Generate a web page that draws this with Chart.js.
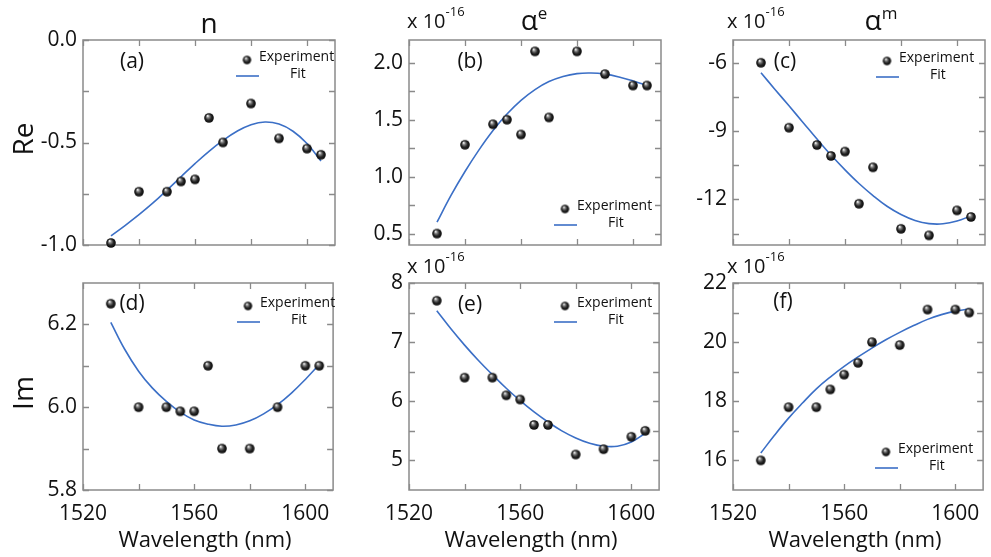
<!DOCTYPE html>
<html>
<head>
<meta charset="utf-8">
<script src="https://cdn.jsdelivr.net/npm/chart.js@4.4.0/dist/chart.umd.min.js"></script>
<style>
  body { margin: 0; background: #fff; }
  #fig { position: relative; width: 991px; height: 557px; overflow: hidden;
         font-family: "Open Sans", sans-serif; color: #111; }
  #fig canvas { position: absolute; }
  .txt { position: absolute; white-space: nowrap; line-height: 1; }
  .sup { position: relative; }
</style>
</head>
<body>
<div id="fig"></div>
<script>
// measured wavelengths (nm)
const wavelength = [1530, 1540, 1550, 1555, 1560, 1565, 1570, 1580, 1590, 1600, 1605];
// wavelengths where the fitted curves are sampled (nm)
const fitWavelength = [1530, 1535, 1540, 1545, 1550, 1555, 1560, 1565, 1570, 1575, 1580, 1585, 1590, 1595, 1600, 1605];

// refractive index n
const reN = [-0.99, -0.74, -0.74, -0.69, -0.68, -0.38, -0.50, -0.31, -0.48, -0.53, -0.56];
const reNFit = [-0.955, -0.905, -0.852, -0.795, -0.732, -0.667, -0.603, -0.543, -0.49, -0.445, -0.413, -0.40, -0.41, -0.445, -0.505, -0.59];
const imN = [6.25, 6.00, 6.00, 5.99, 5.99, 6.10, 5.90, 5.90, 6.00, 6.10, 6.10];
const imNFit = [6.205, 6.14, 6.087, 6.046, 6.014, 5.988, 5.969, 5.959, 5.954, 5.957, 5.967, 5.984, 6.006, 6.034, 6.067, 6.103];

// electric polarizability (x 1e-16)
const reAe = [0.50, 1.28, 1.46, 1.50, 1.37, 2.10, 1.52, 2.10, 1.90, 1.80, 1.80];
const reAeFit = [0.60, 0.835, 1.045, 1.235, 1.405, 1.55, 1.67, 1.765, 1.835, 1.88, 1.905, 1.91, 1.90, 1.875, 1.84, 1.80];
const imAe = [7.70, 6.40, 6.40, 6.10, 6.03, 5.60, 5.60, 5.10, 5.19, 5.40, 5.50];
const imAeFit = [7.53, 7.23, 6.95, 6.69, 6.45, 6.22, 6.01, 5.82, 5.65, 5.50, 5.38, 5.29, 5.24, 5.24, 5.31, 5.46];

// magnetic polarizability (x 1e-16)
const reAm = [-6.0, -8.85, -9.61, -10.09, -9.90, -12.19, -10.59, -13.29, -13.58, -12.48, -12.77];
const reAmFit = [-6.44, -7.17, -7.89, -8.62, -9.35, -10.05, -10.70, -11.30, -11.83, -12.30, -12.66, -12.92, -13.06, -13.07, -12.95, -12.72];
const imAm = [16.0, 17.8, 17.8, 18.4, 18.9, 19.3, 20.0, 19.9, 21.1, 21.1, 21.0];
const imAmFit = [16.25, 16.86, 17.43, 17.94, 18.42, 18.82, 19.18, 19.50, 19.80, 20.08, 20.33, 20.56, 20.77, 20.93, 21.05, 21.12];

// axis ticks and their labels ('' = unlabeled tick)
const xTicks = [1520, 1540, 1560, 1580, 1600];
const xTickLabels = ['1520', '', '1560', '', '1600'];
const reNTicks = [-1, -0.75, -0.5, -0.25, 0];
const reNTickLabels = ['-1.0', '', '-0.5', '', '0.0'];
const imNTicks = [5.8, 5.9, 6.0, 6.1, 6.2];
const imNTickLabels = ['5.8', '', '6.0', '', '6.2'];
const reAeTicks = [0.5, 0.75, 1.0, 1.25, 1.5, 1.75, 2.0];
const reAeTickLabels = ['0.5', '', '1.0', '', '1.5', '', '2.0'];
const imAeTicks = [5, 5.5, 6, 6.5, 7, 7.5, 8];
const imAeTickLabels = ['5', '', '6', '', '7', '', '8'];
const reAmTicks = [-13.5, -12, -10.5, -9, -7.5, -6];
const reAmTickLabels = ['', '-12', '', '-9', '', '-6'];
const imAmTicks = [16, 17, 18, 19, 20, 21, 22];
const imAmTickLabels = ['16', '', '18', '', '20', '', '22'];

const FONT = '"Open Sans", sans-serif';
const FIT_COLOR = '#3b6fc6';
const FRAME_COLOR = '#8a8a8a';
const colLeft = [83, 409, 733];
const rowTop = [40, 283];
const boxW = 254;
const boxH = [205, 207];

const panels = [
  { tag: '(a)', col: 0, row: 0, pts: reN, fit: reNFit, min: -1, max: 0, ticks: reNTicks, labels: reNTickLabels, legend: [164, 20], tagPos: [49, 22] },
  { tag: '(b)', col: 1, row: 0, pts: reAe, fit: reAeFit, min: 0.4, max: 2.2, ticks: reAeTicks, labels: reAeTickLabels, legend: [156, 169], tagPos: [61, 22] },
  { tag: '(c)', col: 2, row: 0, pts: reAm, fit: reAmFit, min: -14, max: -5, ticks: reAmTicks, labels: reAmTickLabels, legend: [154, 21], tagPos: [52, 22] },
  { tag: '(d)', col: 0, row: 1, pts: imN, fit: imNFit, min: 5.8, max: 6.3, ticks: imNTicks, labels: imNTickLabels, legend: [165, 23], tagPos: [49, 21] },
  { tag: '(e)', col: 1, row: 1, pts: imAe, fit: imAeFit, min: 4.5, max: 8, ticks: imAeTicks, labels: imAeTickLabels, legend: [156, 23], tagPos: [61, 22] },
  { tag: '(f)', col: 2, row: 1, pts: imAm, fit: imAmFit, min: 15, max: 22, ticks: imAmTicks, labels: imAmTickLabels, legend: [153, 169], tagPos: [50, 19] }
];

// shaded ball used as the experiment marker
function makeBall(r) {
  const c = document.createElement('canvas');
  c.width = c.height = Math.ceil(2 * r + 2);
  const g = c.getContext('2d');
  const m = c.width / 2;
  const grad = g.createRadialGradient(m - r * 0.3, m - r * 0.45, r * 0.05, m, m, r);
  grad.addColorStop(0, '#ffffff');
  grad.addColorStop(0.25, '#8c8c8c');
  grad.addColorStop(0.6, '#2a2a2a');
  grad.addColorStop(1, '#050505');
  g.fillStyle = grad;
  g.beginPath();
  g.arc(m, m, r, 0, Math.PI * 2);
  g.fill();
  return c;
}
const ball = makeBall(4.8);
const legendBall = makeBall(4.2);

// box frame with inward ticks on all four sides
const framePlugin = {
  id: 'frame',
  beforeDatasetsDraw(chart) {
    const { ctx, chartArea: a, scales: { x, y } } = chart;
    ctx.save();
    ctx.strokeStyle = FRAME_COLOR;
    ctx.lineWidth = 1.3;
    ctx.beginPath();
    x.ticks.forEach(t => {
      const px = Math.round(x.getPixelForValue(t.value)) + 0.5;
      ctx.moveTo(px, a.top); ctx.lineTo(px, a.top + 6);
      ctx.moveTo(px, a.bottom); ctx.lineTo(px, a.bottom - 6);
    });
    y.ticks.forEach(t => {
      const py = Math.round(y.getPixelForValue(t.value)) + 0.5;
      ctx.moveTo(a.left, py); ctx.lineTo(a.left + 6, py);
      ctx.moveTo(a.right, py); ctx.lineTo(a.right - 6, py);
    });
    ctx.stroke();
    ctx.lineWidth = 1.5;
    ctx.strokeRect(a.left, a.top, a.width, a.height);
    ctx.restore();
  }
};

// panel tag and the small legend inside each box
const notesPlugin = {
  id: 'notes',
  afterDatasetsDraw(chart, args, opts) {
    const { ctx, chartArea: a } = chart;
    const [lx, ly] = opts.legend;
    const bx = a.left + lx, by = a.top + ly;
    ctx.save();
    ctx.fillStyle = '#111';
    ctx.textBaseline = 'middle';
    ctx.textAlign = 'center';
    ctx.font = '21px ' + FONT;
    ctx.fillText(opts.tag, a.left + opts.tagPos[0], a.top + opts.tagPos[1]);
    ctx.drawImage(legendBall, bx - legendBall.width / 2, by - legendBall.height / 2);
    ctx.textAlign = 'left';
    ctx.font = '14px ' + FONT;
    ctx.fillText('Experiment', bx + 12, by - 3);
    ctx.fillText('Fit', bx + 43, by + 14);
    ctx.strokeStyle = FIT_COLOR;
    ctx.lineWidth = 1.6;
    ctx.beginPath();
    ctx.moveTo(bx - 11, by + 16);
    ctx.lineTo(bx + 12, by + 16);
    ctx.stroke();
    ctx.restore();
  }
};

const fig = document.getElementById('fig');
Chart.defaults.font.family = FONT;
Chart.defaults.color = '#111';

panels.forEach(p => {
  const bottomRow = p.row === 1;
  // room for the half-height of the edge tick labels
  const padTop = 22, padRight = 4, yW = 70;
  const xH = bottomRow ? 45 : 22;
  const canvas = document.createElement('canvas');
  canvas.width = yW + boxW + padRight;
  canvas.height = padTop + boxH[p.row] + xH;
  canvas.style.left = (colLeft[p.col] - yW) + 'px';
  canvas.style.top = (rowTop[p.row] - padTop) + 'px';
  fig.appendChild(canvas);

  new Chart(canvas.getContext('2d'), {
    data: {
      datasets: [
        {
          type: 'scatter',
          data: wavelength.map((w, i) => ({ x: w, y: p.pts[i] })),
          pointStyle: ball,
          pointRadius: 5,
          clip: false
        },
        {
          type: 'line',
          data: fitWavelength.map((w, i) => ({ x: w, y: p.fit[i] })),
          borderColor: FIT_COLOR,
          borderWidth: 1.6,
          pointRadius: 0,
          tension: 0.4,
          fill: false
        }
      ]
    },
    options: {
      responsive: false,
      animation: false,
      events: [],
      layout: { padding: { top: padTop, right: padRight, left: 0, bottom: 0 } },
      plugins: {
        legend: { display: false },
        tooltip: { enabled: false },
        notes: { tag: p.tag, tagPos: p.tagPos, legend: p.legend }
      },
      scales: {
        x: {
          type: 'linear',
          min: 1520,
          max: 1610,
          afterBuildTicks: s => { s.ticks = xTicks.map(v => ({ value: v })); },
          afterFit: s => { s.height = xH; },
          grid: { display: false, drawTicks: false },
          border: { display: false },
          ticks: {
            display: bottomRow,
            autoSkip: false,
            maxRotation: 0,
            padding: 11,
            font: { size: 21 },
            callback: (v, i) => xTickLabels[i]
          }
        },
        y: {
          type: 'linear',
          min: p.min,
          max: p.max,
          afterBuildTicks: s => { s.ticks = p.ticks.map(v => ({ value: v })); },
          afterFit: s => { s.width = yW; },
          grid: { display: false, drawTicks: false },
          border: { display: false },
          ticks: {
            autoSkip: false,
            padding: 6,
            font: { size: 21 },
            callback: (v, i) => p.labels[i]
          }
        }
      }
    },
    plugins: [framePlugin, notesPlugin]
  });
});

// text around the panels
function addText(html, x, base, size, center) {
  const d = document.createElement('div');
  d.className = 'txt';
  d.innerHTML = html;
  d.style.fontSize = size + 'px';
  d.style.left = x + 'px';
  d.style.top = (base - 0.888 * size) + 'px';
  if (center) d.style.transform = 'translateX(-50%)';
  fig.appendChild(d);
}
function addRotated(text, cx, cy, size) {
  const d = document.createElement('div');
  d.className = 'txt';
  d.textContent = text;
  d.style.fontSize = size + 'px';
  d.style.left = cx + 'px';
  d.style.top = cy + 'px';
  d.style.transform = 'translate(-50%, -50%) rotate(-90deg)';
  fig.appendChild(d);
}

addText('n', 209, 33, 28, true);
addText('α<span class="sup" style="font-size:17px;top:-11px">e</span>', 534, 30, 28, true);
addText('α<span class="sup" style="font-size:17px;top:-11px">m</span>', 881, 30, 28, true);

[[407, 29], [727, 29], [407, 274], [727, 274]].forEach(([x, b]) => {
  addText('x 10<span class="sup" style="font-size:13px;top:-12px">-16</span>', x, b, 20);
});

addRotated('Re', 22, 139, 28);
addRotated('Im', 22, 393, 28);

colLeft.forEach(x => addText('Wavelength (nm)', x + boxW / 2 - 5, 547, 22, true));
</script>
</body>
</html>
